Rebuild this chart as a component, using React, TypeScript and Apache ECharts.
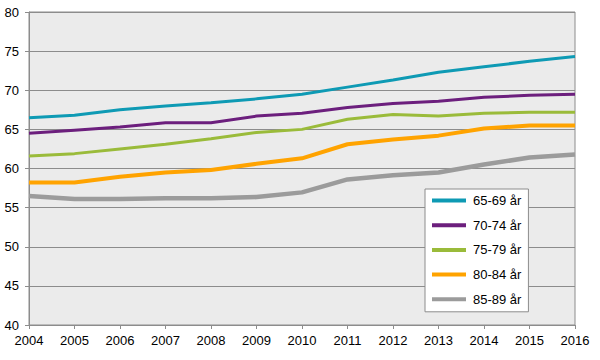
import React, { useEffect, useRef } from "react";
import * as echarts from "echarts";

const years = ["2004","2005","2006","2007","2008","2009","2010","2011","2012","2013","2014","2015","2016"];
const seriesNames = ["65-69 år", "70-74 år", "75-79 år", "80-84 år", "85-89 år"];
const age6569 = [66.5, 66.8, 67.5, 68.0, 68.4, 68.9, 69.5, 70.4, 71.3, 72.3, 73.0, 73.7, 74.3];
const age7074 = [64.5, 64.9, 65.3, 65.85, 65.85, 66.7, 67.05, 67.8, 68.3, 68.6, 69.1, 69.35, 69.5];
const age7579 = [61.6, 61.9, 62.5, 63.1, 63.8, 64.6, 65.0, 66.3, 66.9, 66.7, 67.05, 67.2, 67.2];
const age8084 = [58.2, 58.2, 58.95, 59.5, 59.8, 60.6, 61.3, 63.1, 63.7, 64.2, 65.1, 65.5, 65.5];
const age8589 = [56.5, 56.1, 56.1, 56.2, 56.2, 56.35, 56.95, 58.6, 59.15, 59.5, 60.5, 61.4, 61.8];
const colors = ["#0e9ab4", "#6c1f7d", "#9abb3a", "#ffa300", "#9b9b9b"];
const widths = [3, 3, 3, 4, 4.5];

export default function App() {
  const ref = useRef<HTMLDivElement>(null);
  useEffect(() => {
    if (!ref.current) return;
    const chart = echarts.init(ref.current, null, { renderer: "svg" });
    const data = [age6569, age7074, age7579, age8084, age8589];
    const font = "Liberation Sans, Arial, sans-serif";
    chart.setOption({
      animation: false,
      backgroundColor: "#ffffff",
      grid: {
        left: 29, right: 25, top: 12, bottom: 35,
        show: true, backgroundColor: "#ebebeb", borderColor: "#8c8c8c", borderWidth: 1,
      },
      legend: {
        orient: "vertical",
        left: 425, top: 189,
        backgroundColor: "#ffffff",
        borderColor: "#8c8c8c", borderWidth: 1, borderRadius: 0,
        padding: [5, 7, 6, 7],
        itemWidth: 34, itemHeight: 4, itemGap: 11.7,
        icon: "rect",
        textStyle: { fontFamily: font, fontSize: 13, color: "#000", padding: [0, 0, 0, 2] },
        data: seriesNames,
      },
      xAxis: {
        type: "category",
        data: years,
        boundaryGap: false,
        axisLine: { show: true, lineStyle: { color: "#8c8c8c", width: 1 } },
        axisTick: { show: true, length: 4, alignWithLabel: true, lineStyle: { color: "#8c8c8c" } },
        axisLabel: { color: "#000", fontFamily: font, fontSize: 13, margin: 9 },
        splitLine: { show: false },
      },
      yAxis: {
        type: "value",
        min: 40, max: 80, interval: 5,
        axisLine: { show: true, lineStyle: { color: "#8c8c8c", width: 1 } },
        axisTick: { show: true, length: 4, lineStyle: { color: "#8c8c8c" } },
        axisLabel: { color: "#000", fontFamily: font, fontSize: 13, margin: 10 },
        splitLine: { show: true, lineStyle: { color: "#8c8c8c", width: 1 } },
      },
      series: seriesNames.map((name, i) => ({
        name,
        type: "line",
        data: data[i],
        symbol: "none",
        smooth: false,
        color: colors[i],
        lineStyle: { color: colors[i], width: widths[i] },
        itemStyle: { color: colors[i] },
        z: 10 - i,
      })),
    });
    return () => chart.dispose();
  }, []);
  return (
    <div
      ref={ref}
      style={{ position: "absolute", left: 0, top: 0, width: 600, height: 360 }}
    />
  );
}
